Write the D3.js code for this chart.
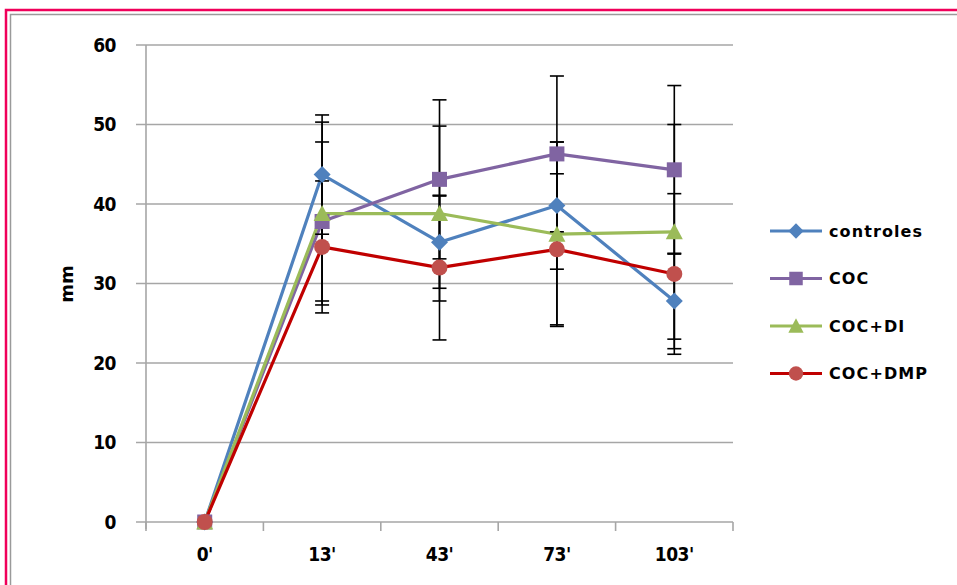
<!DOCTYPE html>
<html><head><meta charset="utf-8">
<script src="https://cdn.jsdelivr.net/npm/d3@7"></script>
<style>body{margin:0;background:#fff}svg{display:block}</style>
</head><body><svg id="c" width="957" height="585"></svg>
<script>
const categories = ["0'", "13'", "43'", "73'", "103'"];
const seriesNames = ["controles", "COC", "COC+DI", "COC+DMP"];
const controles = [0, 43.7, 35.2, 39.8, 27.8];
const coc = [0, 37.8, 43.1, 46.3, 44.3];
const cocDI = [0, 38.8, 38.8, 36.2, 36.5];
const cocDMP = [0, 34.6, 32.0, 34.3, 31.2];
const errControles = [0, 7.5, 5.8, 8.0, 6.0];
const errCOC = [0, 10.0, 10.0, 9.8, 10.6];
const errDI = [0, 11.5, 11.0, 11.6, 13.5];
const errDMP = [0, 8.3, 9.1, 9.5, 10.1];
const yTicks = [0, 10, 20, 30, 40, 50, 60];

const series = [
  {name: seriesNames[0], values: controles, err: errControles, line: "#4F81BD", fill: "#4F81BD", shape: "diamond"},
  {name: seriesNames[1], values: coc, err: errCOC, line: "#8064A2", fill: "#8064A2", shape: "square"},
  {name: seriesNames[2], values: cocDI, err: errDI, line: "#9BBB59", fill: "#9BBB59", shape: "triangle"},
  {name: seriesNames[3], values: cocDMP, err: errDMP, line: "#C00000", fill: "#C0504D", shape: "circle"}
];

const svg = d3.select("#c");
// frame
svg.append("rect").attr("x", 6).attr("y", 10).attr("width", 1000).attr("height", 700)
  .attr("fill", "none").attr("stroke", "#F0005A").attr("stroke-width", 2.5);
svg.append("rect").attr("x", 10.5).attr("y", 14.5).attr("width", 1000).attr("height", 700)
  .attr("fill", "none").attr("stroke", "#9a9a9a").attr("stroke-width", 1.5);

const L = 146, R = 733, T = 45, B = 522;
const x = d3.scaleBand().domain(categories).range([L, R]);
const y = d3.scaleLinear().domain([0, 60]).range([B, T]);
const cx = c => x(c) + x.bandwidth() / 2;

const tickFont = "'DejaVu Sans Condensed','Liberation Sans Narrow',sans-serif";

// gridlines
svg.append("g").selectAll("line").data(yTicks).join("line")
  .attr("x1", L - 10).attr("x2", R).attr("y1", d => y(d)).attr("y2", d => y(d))
  .attr("stroke", "#a6a6a6").attr("stroke-width", 1.6);

// y axis line
svg.append("line").attr("x1", L).attr("x2", L).attr("y1", T).attr("y2", B + 7)
  .attr("stroke", "#a6a6a6").attr("stroke-width", 1.6);
// x ticks at band boundaries
const bounds = categories.map(c => x(c)).concat([R]);
svg.append("g").selectAll("line").data(bounds).join("line")
  .attr("x1", d => d).attr("x2", d => d).attr("y1", B).attr("y2", B + 9)
  .attr("stroke", "#a6a6a6").attr("stroke-width", 1.6);

// y tick labels
svg.append("g").selectAll("text").data(yTicks).join("text")
  .attr("x", 116).attr("y", d => y(d)).attr("dy", "0.36em").attr("text-anchor", "end")
  .attr("font-family", tickFont).attr("font-weight", "bold").attr("font-size", 19)
  .attr("letter-spacing", -0.5).text(d => d);
// x labels
svg.append("g").selectAll("text").data(categories).join("text")
  .attr("x", d => cx(d)).attr("y", 561).attr("text-anchor", "middle")
  .attr("font-family", tickFont).attr("font-weight", "bold").attr("font-size", 19)
  .attr("letter-spacing", -0.5).text(d => d);
// y title
svg.append("text").attr("transform", "translate(73,284) rotate(-90)").attr("text-anchor", "middle")
  .attr("font-family", "'DejaVu Sans',sans-serif").attr("font-weight", "bold").attr("font-size", 18).text("mm");

// lines
const line = d3.line().x((d, i) => cx(categories[i])).y(d => y(d));
series.forEach(s => {
  svg.append("path").attr("d", line(s.values)).attr("fill", "none")
    .attr("stroke", s.line).attr("stroke-width", 3.2).attr("stroke-linejoin", "round");
});
// error bars
series.forEach(s => {
  const g = svg.append("g").attr("stroke", "#000").attr("stroke-width", 1.6);
  s.values.forEach((v, i) => {
    const e = s.err[i];
    if (!e) return;
    const xx = cx(categories[i]);
    g.append("line").attr("x1", xx).attr("x2", xx).attr("y1", y(v + e)).attr("y2", y(v - e));
    [v + e, v - e].forEach(t => g.append("line").attr("x1", xx - 7).attr("x2", xx + 7).attr("y1", y(t)).attr("y2", y(t)));
  });
});
// markers
function marker(g, shape, px, py, fill, scale) {
  const k = scale || 1;
  if (shape === "diamond") g.append("path").attr("d", `M${px},${py-8.5*k}L${px+8.5*k},${py}L${px},${py+8.5*k}L${px-8.5*k},${py}Z`).attr("fill", fill);
  else if (shape === "square") g.append("rect").attr("x", px-7.5*k).attr("y", py-7.5*k).attr("width", 15*k).attr("height", 15*k).attr("fill", fill);
  else if (shape === "triangle") g.append("path").attr("d", `M${px},${py-8.5*k}L${px+8.5*k},${py+7.5*k}L${px-8.5*k},${py+7.5*k}Z`).attr("fill", fill);
  else g.append("circle").attr("cx", px).attr("cy", py).attr("r", 8*k).attr("fill", fill);
}
series.forEach(s => {
  const g = svg.append("g");
  s.values.forEach((v, i) => marker(g, s.shape, cx(categories[i]), y(v), s.fill));
});

// legend
const lg = svg.append("g");
series.forEach((s, i) => {
  const yy = 231 + i * 47.5;
  lg.append("line").attr("x1", 770).attr("x2", 822).attr("y1", yy).attr("y2", yy)
    .attr("stroke", s.line).attr("stroke-width", 3.2);
  marker(lg, s.shape, 796, yy, s.fill, 0.9);
  lg.append("text").attr("x", 829).attr("y", yy).attr("dy", "0.36em")
    .attr("font-family", "'DejaVu Sans',sans-serif").attr("font-weight", "bold").attr("font-size", 16)
    .attr("letter-spacing", 1.1).text(s.name);
});
</script></body></html>
